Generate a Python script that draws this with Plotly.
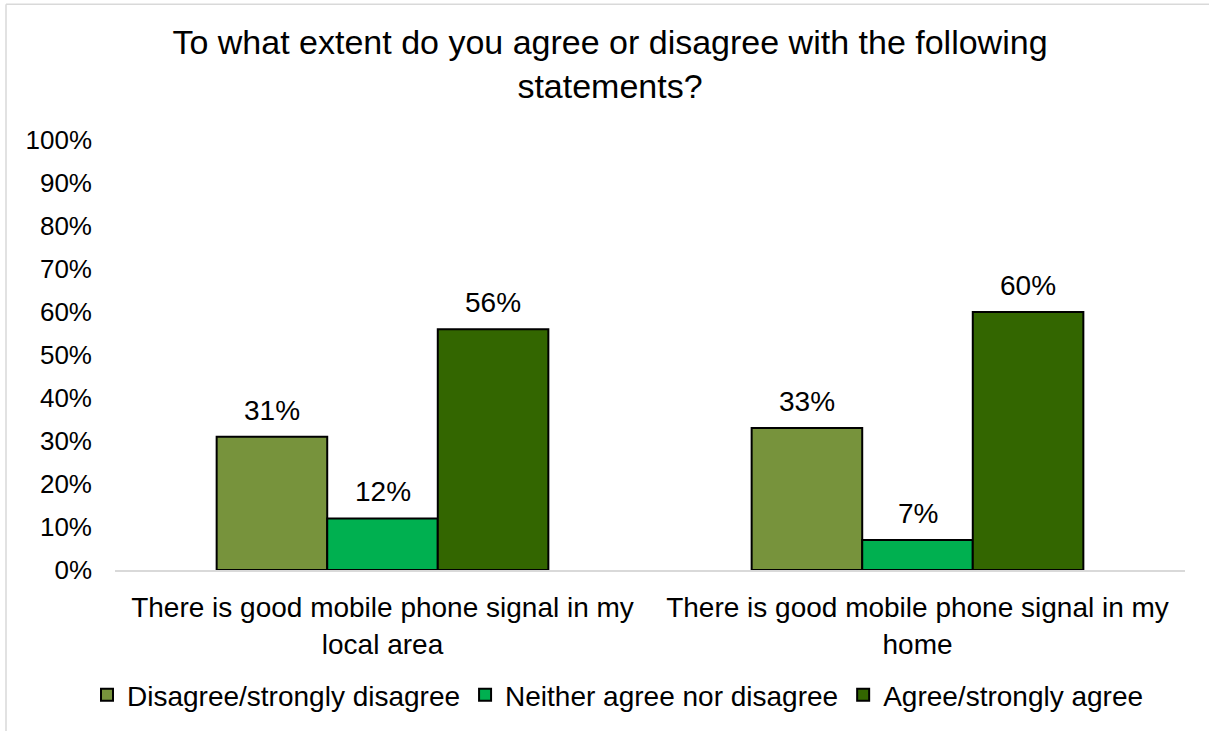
import plotly.graph_objects as go

# Survey responses, share of respondents per statement
statements = [
    "There is good mobile phone signal in my<br>local area",
    "There is good mobile phone signal in my<br>home",
]
series_names = ["Disagree/strongly disagree", "Neither agree nor disagree", "Agree/strongly agree"]
disagree = [0.31, 0.33]
neither = [0.12, 0.07]
agree = [0.56, 0.60]
series_values = [disagree, neither, agree]
series_colors = ["#77933C", "#00B050", "#336600"]
y_ticks = [i / 10 for i in range(11)]
y_tick_labels = [f"{i * 10}%" for i in range(11)]

FONT = "Liberation Sans, Arial, sans-serif"

W, H = 1209, 731
L, R, T, B = 115, 24, 140, 160
pw, ph = W - L - R, H - T - B
BARGAP = 0.38

fig = go.Figure()
annotations = []
for name, vals, col in zip(series_names, series_values, series_colors):
    fig.add_trace(go.Bar(
        x=statements, y=vals, name=name,
        marker=dict(color=col, line=dict(color="#000000", width=2)),
        offsetgroup=name,
    ))

fig.update_layout(barmode="group", bargap=BARGAP, bargroupgap=0)

# value labels above each bar
n = len(series_names)
group_w = 1 - BARGAP
for si, vals in enumerate(series_values):
    for ci, v in enumerate(vals):
        x = ci - group_w / 2 + group_w / n * (si + 0.5)
        annotations.append(dict(
            x=x, y=v, xref="x", yref="y", text=f"{round(v * 100)}%",
            showarrow=False, yanchor="bottom", yshift=9,
            font=dict(family=FONT, size=28, color="#000000"),
        ))


def px_to_paper_x(px):
    return (px - L) / pw


def px_to_paper_y(py):
    return (H - B - py) / ph


# light chart-area frame (top and left edges)
shapes = [
    dict(type="line", xref="paper", yref="paper",
         x0=px_to_paper_x(6), x1=px_to_paper_x(1215),
         y0=px_to_paper_y(4), y1=px_to_paper_y(4),
         line=dict(color="#d9d9d9", width=1.5)),
    dict(type="line", xref="paper", yref="paper",
         x0=px_to_paper_x(6), x1=px_to_paper_x(6),
         y0=px_to_paper_y(4), y1=px_to_paper_y(740),
         line=dict(color="#d9d9d9", width=1.5)),
]

fig.update_layout(
    width=W, height=H,
    margin=dict(l=L, r=R, t=T, b=B),
    paper_bgcolor="white", plot_bgcolor="white",
    title=dict(
        text="To what extent do you agree or disagree with the following<br>statements?",
        x=px_to_paper_x(610), xref="paper", xanchor="center",
        y=1 - 54 / H, yref="container", yanchor="middle",
        font=dict(family=FONT, size=34, color="#000000"),
    ),
    xaxis=dict(
        range=[-0.5, 1.5],
        showline=True, linecolor="#d9d9d9", linewidth=1.5,
        showgrid=False, ticks="", ticklabelstandoff=12,
        tickfont=dict(family=FONT, size=28, color="#000000"),
    ),
    yaxis=dict(
        range=[0, 1], tickvals=y_ticks, ticktext=y_tick_labels,
        showline=False, showgrid=False, zeroline=False, ticks="",
        ticklabelstandoff=22,
        tickfont=dict(family=FONT, size=26, color="#000000"),
    ),
    legend=dict(
        orientation="h", x=px_to_paper_x(618), xanchor="center",
        y=px_to_paper_y(695), yanchor="middle",
        font=dict(family=FONT, size=28, color="#000000"),
        itemwidth=30, tracegroupgap=0,
    ),
    annotations=annotations,
    shapes=shapes,
    showlegend=True,
)

fig.write_html("out.html")
